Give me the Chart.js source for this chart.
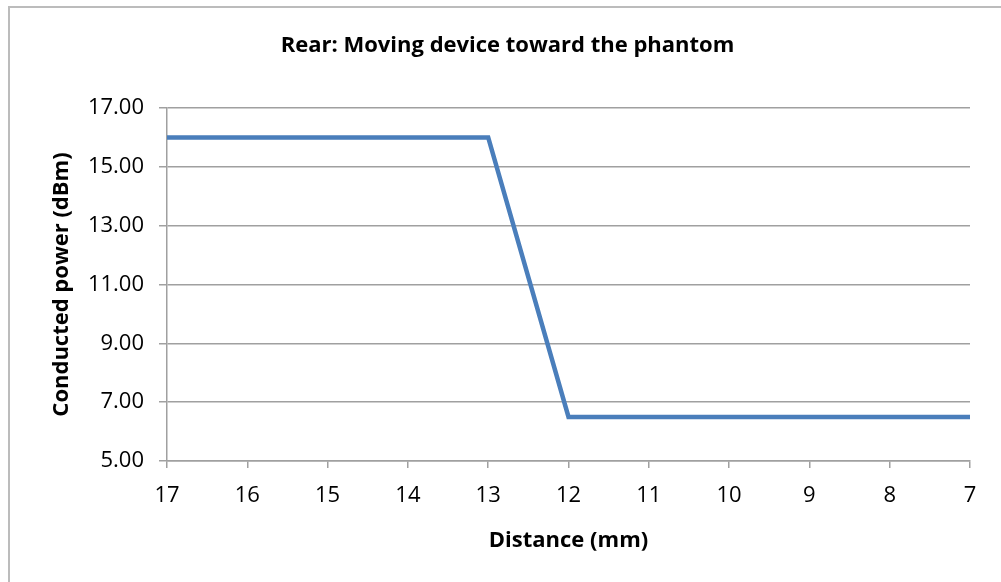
<!DOCTYPE html>
<html>
<head>
<meta charset="utf-8">
<script src="https://cdn.jsdelivr.net/npm/chart.js@4.4.1/dist/chart.umd.min.js"></script>
<style>
  html, body { margin: 0; padding: 0; background: #ffffff; overflow: hidden; }
  #wrap { position: absolute; left: 0; top: 0; width: 1001px; height: 582px; }
  #frame { position: absolute; left: 8px; top: 6px; width: 1010px; height: 600px;
           border-top: 2px solid #bcbcbc; border-left: 2px solid #bcbcbc; }
  canvas { position: absolute; left: 0; top: 0; }
</style>
</head>
<body>
<div id="wrap">
  <div id="frame"></div>
  <canvas id="c" width="1001" height="582"></canvas>
</div>
<script>
const categories = ['17', '16', '15', '14', '13', '12', '11', '10', '9', '8', '7'];
const powerValues = [16.00, 16.00, 16.00, 16.00, 16.00, 6.50, 6.50, 6.50, 6.50, 6.50, 6.50];
const yTickValues = [5, 7, 9, 11, 13, 15, 17];
const chartTitle = 'Rear: Moving device toward the phantom';
const xTitle = 'Distance (mm)';
const yTitle = 'Conducted power (dBm)';

const FONT = '"Open Sans", Lato, sans-serif';
const GRID = '#a0a0a0';

new Chart(document.getElementById('c'), {
  type: 'line',
  data: {
    labels: categories,
    datasets: [{
      data: powerValues,
      borderColor: '#4a7ebb',
      backgroundColor: '#4a7ebb',
      borderWidth: 4.5,
      pointRadius: 0,
      pointHoverRadius: 0,
      tension: 0,
      fill: false
    }]
  },
  options: {
    responsive: false,
    animation: false,
    events: [],
    layout: { padding: { left: 45, right: 31, top: 0, bottom: 0 } },
    plugins: {
      legend: { display: false },
      tooltip: { enabled: false },
      title: {
        display: true,
        text: chartTitle,
        color: '#000000',
        font: { family: FONT, size: 22, weight: 'bold' },
        padding: { top: 33, bottom: 48.6 }
      }
    },
    scales: {
      x: {
        type: 'category',
        offset: false,
        afterFit: s => { s.height = 121; },
        grid: { drawOnChartArea: false, drawTicks: true, tickLength: 7, color: GRID, lineWidth: 1.5 },
        border: { display: true, color: GRID, width: 1.5 },
        ticks: { color: '#000000', font: { family: FONT, size: 22 }, padding: 15, autoSkip: false, maxRotation: 0 },
        title: { display: true, text: xTitle, color: '#000000', font: { family: FONT, size: 22, weight: 'bold' }, padding: { top: 0, bottom: 28 } }
      },
      y: {
        min: 5,
        max: 17,
        afterFit: s => { s.width = 122; },
        afterBuildTicks: s => { s.ticks = yTickValues.map(v => ({ value: v })); },
        grid: { drawOnChartArea: true, drawTicks: true, tickLength: 8, color: GRID, lineWidth: 1.5 },
        border: { display: true, color: GRID, width: 1.5 },
        ticks: { color: '#000000', font: { family: FONT, size: 22 }, padding: 15,
                 callback: v => Number(v).toFixed(2) },
        title: { display: true, text: yTitle, color: '#000000', font: { family: FONT, size: 22, weight: 'bold' }, padding: { top: 4, bottom: 0 } }
      }
    }
  }
});
</script>
</body>
</html>
